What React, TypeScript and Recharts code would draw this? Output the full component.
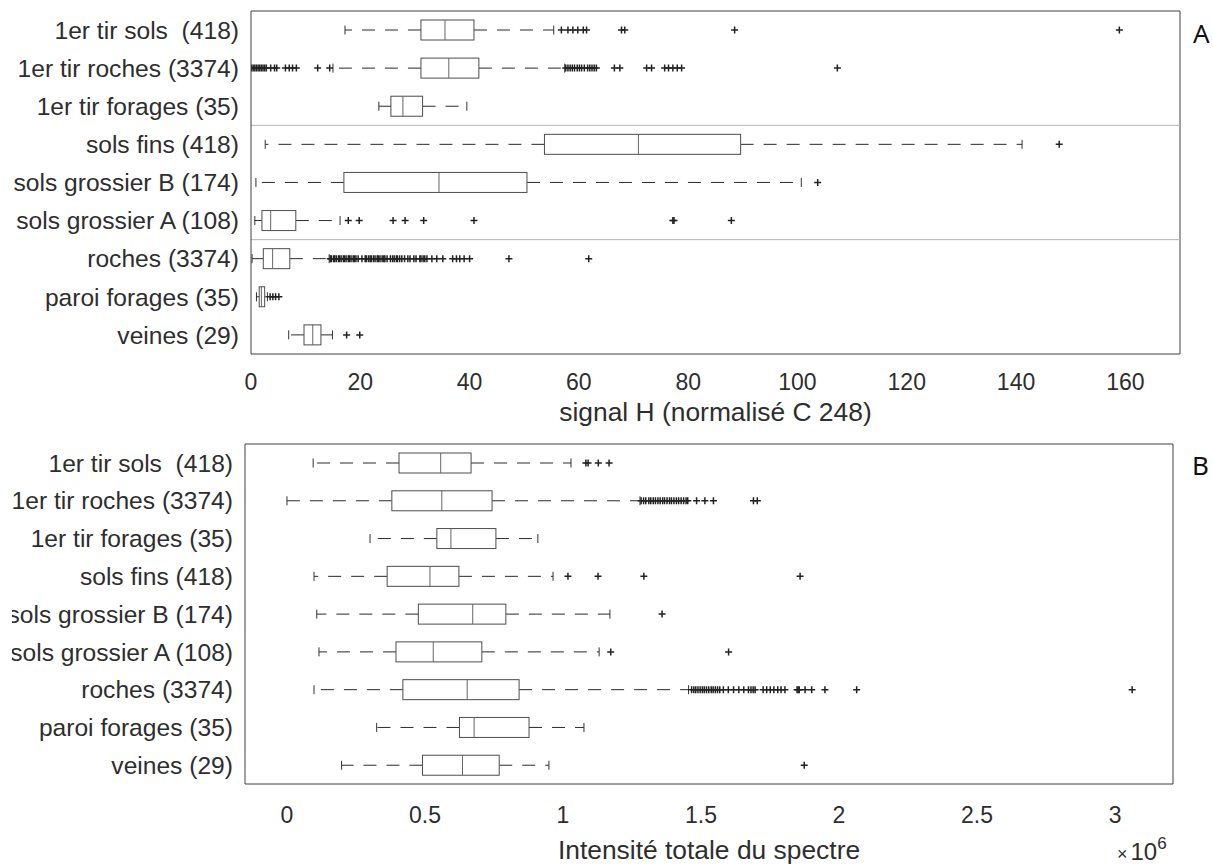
import React from 'react';
import { ComposedChart, Bar, XAxis, YAxis, ReferenceLine, Label } from 'recharts';

const CATEGORIES = [
  '1er tir sols \u00a0(418)',
  '1er tir roches (3374)',
  '1er tir forages (35)',
  'sols fins (418)',
  'sols grossier B (174)',
  'sols grossier A (108)',
  'roches (3374)',
  'paroi forages (35)',
  'veines (29)',
];

// signal H : [whisker low, q1, median, q3, whisker high]
const H_STATS = [
  [17.2, 31.1, 35.5, 40.8, 55.4],
  [15.0, 31.1, 36.2, 41.7, 57.4],
  [23.4, 25.6, 27.8, 31.4, 39.5],
  [2.6, 53.7, 70.9, 89.6, 141.1],
  [0.9, 17.0, 34.4, 50.5, 100.7],
  [0.7, 2.0, 3.6, 8.2, 16.3],
  [0.2, 2.25, 3.96, 7.1, 14.3],
  [1.0, 1.5, 1.9, 2.5, 3.0],
  [6.9, 9.7, 11.3, 12.8, 14.9],
];

const H_OUTLIERS = [
  [56.8, 58.0, 58.9, 59.8, 60.8, 61.4, 67.8, 68.4, 88.5, 158.9],
  [0.1, 0.4, 0.7, 1.0, 1.3, 1.6, 1.9, 2.2, 2.5, 2.8, 3.6, 4.3, 4.7, 6.3, 7.0, 7.6, 8.3, 12.2, 14.4,
    57.6, 58.0, 58.4, 58.8, 59.2, 59.7, 60.1, 60.5, 61.0, 61.6, 62.0, 62.4, 62.8, 63.2,
    66.5, 67.5, 72.4, 73.3, 75.7, 76.4, 77.2, 78.0, 78.8, 107.3],
  [],
  [147.9],
  [103.7],
  [17.8, 19.8, 26.0, 28.2, 31.6, 40.8, 77.2, 77.4, 87.9],
  [14.5, 14.7, 15.1, 15.3, 15.6, 16.0, 16.2, 16.5, 16.9, 17.1, 17.4, 17.8, 18.0, 18.3, 18.7, 18.9,
    19.2, 19.6, 20.3, 20.9, 21.1, 21.5, 21.8, 22.0, 22.4, 22.7, 23.1, 23.3, 23.6, 24.0, 24.3, 24.5,
    24.9, 25.5, 25.9, 26.2, 26.6, 26.8, 27.2, 27.6, 28.1, 28.7, 29.1, 29.8, 30.2, 30.9, 31.1, 31.5,
    31.8, 32.2, 33.1, 34.0, 35.1, 36.9, 37.6, 38.2, 39.0, 40.0, 47.2, 61.8],
  [3.5, 4.0, 4.5, 5.1],
  [17.5, 19.9],
];

// intensité totale : [whisker low, q1, median, q3, whisker high]
const I_STATS = [
  [95000, 406000, 557000, 667000, 1029000],
  [0, 380000, 561000, 743000, 1279000],
  [301000, 543000, 594000, 757000, 909000],
  [98000, 363000, 518000, 623000, 964000],
  [108000, 476000, 673000, 793000, 1170000],
  [116000, 395000, 530000, 706000, 1131000],
  [98000, 420000, 653000, 841000, 1455000],
  [325000, 625000, 678000, 877000, 1076000],
  [198000, 491000, 636000, 769000, 949000],
];

const I_OUTLIERS = [
  [1083000, 1091000, 1128000, 1167000],
  [1283000, 1292000, 1300000, 1311000, 1318000, 1327000, 1335000, 1344000, 1352000, 1361000,
    1368000, 1377000, 1386000, 1393000, 1402000, 1411000, 1419000, 1428000, 1437000, 1446000,
    1452000, 1484000, 1514000, 1545000, 1690000, 1704000],
  [],
  [1018000, 1127000, 1293000, 1859000],
  [1359000],
  [1173000, 1600000],
  [1466000, 1474000, 1481000, 1489000, 1497000, 1505000, 1512000, 1520000, 1528000, 1537000,
    1544000, 1552000, 1560000, 1568000, 1581000, 1599000, 1618000, 1637000, 1655000, 1672000,
    1681000, 1689000, 1696000, 1725000, 1738000, 1751000, 1764000, 1778000, 1790000, 1804000,
    1848000, 1852000, 1856000, 1877000, 1901000, 1949000, 2064000, 3062000],
  [],
  [1874000],
];

const H_TICKS = [0, 20, 40, 60, 80, 100, 120, 140, 160];
const I_TICKS = [0, 500000, 1000000, 1500000, 2000000, 2500000, 3000000];
const H_DOMAIN = [0, 170];
const I_DOMAIN = [-152000, 3210000];

const FONT = '"Liberation Sans", Arial, sans-serif';
const TEXT = '#2e2e2e';
const FRAME = '#404040';

function buildRows(stats: number[][], outliers: number[][]) {
  return CATEGORIES.map((name, i) => ({
    name,
    range: [stats[i][0], stats[i][4]],
    stats: stats[i],
    outliers: outliers[i],
  }));
}

const hRows = buildRows(H_STATS, H_OUTLIERS);
const iRows = buildRows(I_STATS, I_OUTLIERS);

function BoxShape(props: any) {
  const { x, y, width, height, payload } = props;
  const [lo, q1, med, q3, hi] = payload.stats;
  const px = (v: number) => x + ((v - lo) / (hi - lo)) * width;
  const cy = y + height / 2;
  const cap = 4.5;
  const arm = 3.5;
  return (
    <g>
      <line x1={px(q1)} y1={cy} x2={px(lo)} y2={cy} stroke="#2a2a2a" strokeDasharray="13 10" />
      <line x1={px(q3)} y1={cy} x2={px(hi)} y2={cy} stroke="#2a2a2a" strokeDasharray="13 10" />
      <line x1={px(lo)} y1={cy - cap} x2={px(lo)} y2={cy + cap} stroke="#333" />
      <line x1={px(hi)} y1={cy - cap} x2={px(hi)} y2={cy + cap} stroke="#333" />
      <rect x={px(q1)} y={y} width={px(q3) - px(q1)} height={height} fill="#fff" stroke="#4d4d4d" />
      <line x1={px(med)} y1={y} x2={px(med)} y2={y + height} stroke="#666" />
      {payload.outliers.map((v: number, k: number) => (
        <path
          key={k}
          d={`M${px(v) - arm},${cy}H${px(v) + arm}M${px(v)},${cy - arm}V${cy + arm}`}
          stroke="#222"
          strokeWidth={1.5}
          fill="none"
        />
      ))}
    </g>
  );
}

const tickStyle = { fontSize: 23, fill: TEXT, fontFamily: FONT };
const catStyle = { fontSize: 24.6, fill: TEXT, fontFamily: FONT };

export default function App() {
  return (
    <div style={{ position: 'absolute', left: 0, top: 0, width: 1213, height: 865, background: '#fff', overflow: 'hidden' }}>
      <div style={{ position: 'absolute', left: 0, top: 0 }}>
        <ComposedChart
          width={1213}
          height={430}
          layout="vertical"
          data={hRows}
          margin={{ top: 11, right: 33, bottom: 6, left: 0 }}
        >
          <XAxis
            type="number"
            domain={H_DOMAIN}
            ticks={H_TICKS}
            allowDataOverflow
            tick={tickStyle}
            tickLine={false}
            tickSize={0}
            tickMargin={20}
            axisLine={{ stroke: FRAME }}
            height={70}
          >
            <Label
              value="signal H (normalisé C 248)"
              position="insideBottom"
              offset={3}
              style={{ fontSize: 26.4, fill: TEXT, fontFamily: FONT }}
            />
          </XAxis>
          <YAxis
            type="category"
            dataKey="name"
            width={251}
            interval={0}
            tick={catStyle}
            tickLine={false}
            tickSize={0}
            tickMargin={12}
            axisLine={{ stroke: FRAME }}
          />
          <ReferenceLine y={CATEGORIES[0]} position="start" stroke={FRAME} />
          <ReferenceLine x={H_DOMAIN[1]} stroke={FRAME} />
          <ReferenceLine y={CATEGORIES[3]} position="start" stroke="#b4b4b4" />
          <ReferenceLine y={CATEGORIES[6]} position="start" stroke="#b4b4b4" />
          <Bar dataKey="range" barSize={20} shape={BoxShape} isAnimationActive={false} />
        </ComposedChart>
      </div>

      <div style={{ position: 'absolute', left: 12, top: 430, width: 1201, height: 435, overflow: 'hidden' }}>
        <div style={{ position: 'absolute', left: -12, top: 0 }}>
          <ComposedChart
            width={1213}
            height={435}
            layout="vertical"
            data={iRows}
            margin={{ top: 14, right: 40, bottom: 3, left: 0 }}
          >
            <XAxis
              type="number"
              domain={I_DOMAIN}
              ticks={I_TICKS}
              allowDataOverflow
              tickFormatter={(v: number) => String(v / 1e6)}
              tick={tickStyle}
              tickLine={false}
              tickSize={0}
              tickMargin={23}
              axisLine={{ stroke: FRAME }}
              height={78}
            >
              <Label
                value="Intensité totale du spectre"
                position="insideBottom"
                offset={3}
                style={{ fontSize: 26.4, fill: TEXT, fontFamily: FONT }}
              />
            </XAxis>
            <YAxis
              type="category"
              dataKey="name"
              width={245}
              interval={0}
              tick={catStyle}
              tickLine={false}
              tickSize={0}
              tickMargin={12}
              axisLine={{ stroke: FRAME }}
            />
            <ReferenceLine y={CATEGORIES[0]} position="start" stroke={FRAME} />
            <ReferenceLine x={I_DOMAIN[1]} stroke={FRAME} />
            <Bar dataKey="range" barSize={20} shape={BoxShape} isAnimationActive={false} />
          </ComposedChart>
        </div>
      </div>

      <svg width={1213} height={865} style={{ position: 'absolute', left: 0, top: 0, pointerEvents: 'none' }}>
        <text x={1193} y={43} fontSize={26} fontFamily='"Noto Sans", sans-serif' fill="#111">A</text>
        <text x={1192} y={475} fontSize={26} fontFamily='"Noto Sans", sans-serif' fill="#111">B</text>
        <text x={1117} y={860} fontSize={18} fontFamily={FONT} fill={TEXT}>
          ×<tspan fontSize={24} dx={3}>10</tspan>
          <tspan dy={-11} fontSize={17}>6</tspan>
        </text>
      </svg>
    </div>
  );
}
